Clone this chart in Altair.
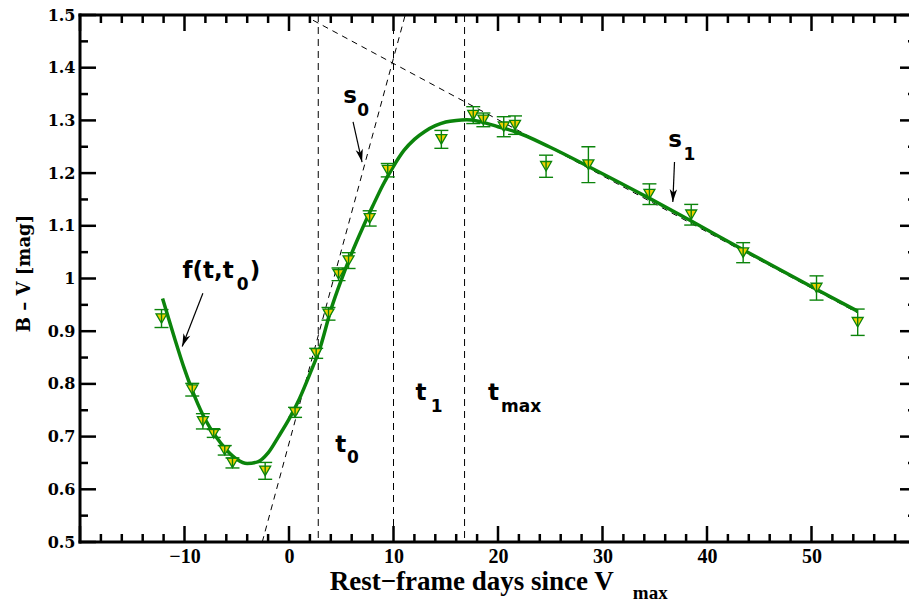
import math
import altair as alt
import pandas as pd

# B-V colour measurements: rest-frame days since V maximum, colour, 1-sigma error
days = [-12.2, -9.26, -8.24, -7.2, -6.15, -5.41, -2.28, 0.58, 2.6, 3.78, 4.74, 5.7, 7.72,
        9.45, 14.58, 17.63, 18.6, 20.55, 21.63, 24.6, 28.65, 34.49, 38.49, 43.46, 50.48, 54.42]
bv = [0.924, 0.789, 0.729, 0.706, 0.674, 0.650, 0.635, 0.746, 0.858, 0.933, 1.008, 1.034, 1.114,
      1.2055, 1.264, 1.310, 1.301, 1.288, 1.291, 1.213, 1.216, 1.160, 1.121, 1.049, 0.982, 0.917]
bv_err = [0.017, 0.012, 0.0145, 0.0075, 0.009, 0.0095, 0.016, 0.0095, 0.0095, 0.012, 0.012, 0.015,
          0.0145, 0.0127, 0.017, 0.016, 0.013, 0.019, 0.0175, 0.021, 0.034, 0.0196, 0.0196, 0.019,
          0.023, 0.025]

# fitted colour curve f(t, t0)
fit_days = [-12.1, -11.0, -10.0, -9.0, -8.0, -7.0, -6.0, -5.0, -4.0, -3.0, -2.0, -1.0, 0.0, 1.0,
            2.0, 3.0, 4.0, 5.0, 6.0, 7.0, 8.0, 9.0, 10.0, 11.0, 12.0, 13.0, 14.0, 15.0, 16.0, 17.0,
            18.0, 19.0, 20.0, 21.6, 25.0, 28.6, 34.5, 38.5, 43.5, 50.5, 54.4]
fit_bv = [0.962, 0.890, 0.828, 0.775, 0.732, 0.700, 0.675, 0.657, 0.649, 0.652, 0.669, 0.700,
          0.733, 0.772, 0.819, 0.870, 0.940, 0.997, 1.048, 1.094, 1.137, 1.178, 1.213, 1.243,
          1.264, 1.279, 1.290, 1.297, 1.300, 1.301, 1.299, 1.294, 1.288, 1.279, 1.249, 1.213,
          1.152, 1.109, 1.054, 0.979, 0.938]

# tangent lines s0 (rise) and s1 (late decline)
s0_days = [-2.56, 11.12]
s0_bv = [0.5, 1.5]
s1_days = [2.3, 54.4]
s1_bv = [1.49, 0.935]

# characteristic epochs t0, t1, tmax
epochs = [2.8, 10.0, 16.8]

# axis tick values
x_labels = [-10, 0, 10, 20, 30, 40, 50]
x_major = [-20, -10, 0, 10, 20, 30, 40, 50, 60]
x_minor = [v for v in range(-20, 61, 2) if v % 10]
y_major = [0.5, 0.6, 0.7, 0.8, 0.9, 1.0, 1.1, 1.2, 1.3, 1.4, 1.5]
y_minor = [0.55, 0.65, 0.75, 0.85, 0.95, 1.05, 1.15, 1.25, 1.35, 1.45]

# ---- layout ----
W, H = 829, 527
PX_DAY = 10.45
X0 = -20.0
XMAX = X0 + W / PX_DAY
RIGHT_FRAME = (60 - X0) * PX_DAY
PX_MAG = H / 1.0

GREEN = "#0b840b"
YELLOW = "#f2d000"

xs = alt.Scale(domain=[X0, XMAX], nice=False, zero=False)
ys = alt.Scale(domain=[0.5, 1.5], nice=False, zero=False)

# one shared axis definition per channel, used by every layer
AX_X = alt.Axis(values=x_labels, format="d", title=None, ticks=False, tickSize=0,
                domain=False, grid=False, labelFont="Liberation Serif",
                labelFontWeight="bold", labelFontSize=20, labelPadding=4,
                labelColor="black", labelOverlap=False, labelFlush=False)
AX_Y = alt.Axis(values=y_major, format=".1~f", title="B – V [mag]", ticks=False,
                tickSize=0, domain=False, grid=False, labelFont="DejaVu Serif",
                labelFontWeight="bold", labelFontSize=16, labelPadding=5,
                labelColor="black", labelOverlap=False, labelFlush=False,
                labelBaseline="middle",
                titleFont="DejaVu Serif", titleFontWeight="bold", titleFontSize=18,
                titleColor="black", titleAngle=270, titleX=-56, titleY=258,
                titleAlign="center", titleBaseline="middle")


def X(field="x"):
    return alt.X(f"{field}:Q", scale=xs, axis=AX_X, title=None)


def Y(field="y"):
    return alt.Y(f"{field}:Q", scale=ys, axis=AX_Y, title="B – V [mag]")


pts = pd.DataFrame({"x": days, "y": bv,
                    "lo": [v - e for v, e in zip(bv, bv_err)],
                    "hi": [v + e for v, e in zip(bv, bv_err)]})
fit = pd.DataFrame({"x": fit_days, "y": fit_bv})

layers = []

# dashed epoch lines
ep = pd.DataFrame({"x": epochs})
layers.append(alt.Chart(ep).mark_rule(color="black", strokeWidth=1, strokeDash=[7, 5]).encode(
    x=X(), y=alt.value(0), y2=alt.value(H)))

# dashed tangent lines
for dd, bb in ((s0_days, s0_bv), (s1_days, s1_bv)):
    layers.append(alt.Chart(pd.DataFrame({"x": dd, "y": bb})).mark_line(
        color="black", strokeWidth=1, strokeDash=[6, 5]).encode(x=X(), y=Y()))

# fitted curve
layers.append(alt.Chart(fit).mark_line(color=GREEN, strokeWidth=3.5, interpolate="monotone").encode(
    x=X(), y=Y(), order="x:Q"))

# data markers
layers.append(alt.Chart(pts).mark_point(shape="triangle-down", filled=True, size=120,
                                        fill=YELLOW, stroke=GREEN, strokeWidth=1.3,
                                        opacity=1).encode(x=X(), y=Y()))

# error bars with caps
layers.append(alt.Chart(pts).mark_rule(color=GREEN, strokeWidth=1.4).encode(
    x=X(), y=Y("lo"), y2="hi:Q"))
for f in ("lo", "hi"):
    layers.append(alt.Chart(pts).mark_tick(orient="horizontal", color=GREEN, size=14,
                                           thickness=1.4, opacity=1).encode(x=X(), y=Y(f)))

# annotation arrows: shaft start and tip
arr_x0 = [-8.24, 6.13, 36.89]
arr_y0 = [0.972, 1.297, 1.221]
arr_x1 = [-10.22, 6.99, 36.73]
arr_y1 = [0.871, 1.221, 1.145]
angles = []
for a, b, c, d in zip(arr_x0, arr_y0, arr_x1, arr_y1):
    dx = (c - a) * PX_DAY
    dy = -(d - b) * PX_MAG
    angles.append(math.degrees(math.atan2(dx, -dy)) % 360)
arr = pd.DataFrame({"x": arr_x0, "y": arr_y0, "x2": arr_x1, "y2": arr_y1, "ang": angles})
layers.append(alt.Chart(arr).mark_rule(color="black", strokeWidth=1.2).encode(
    x=X(), y=Y(), x2="x2:Q", y2="y2:Q"))
head = "M0,0L0.6,2.1L0,1.55L-0.6,2.1Z"
layers.append(alt.Chart(arr).mark_point(shape=head, filled=True, color="black", size=150,
                                        opacity=1).encode(
    x=X("x2"), y=Y("y2"), angle=alt.Angle("ang:Q", scale=None)))


def label(txt, x, y, size, font="DejaVu Sans"):
    return alt.Chart(pd.DataFrame({"x": [x], "y": [y], "t": [txt]})).mark_text(
        align="left", baseline="alphabetic", font=font, fontWeight="bold", fontSize=size,
        color="black").encode(x=X(), y=Y(), text="t:N")


layers += [
    label("f(t,t", -10.19, 1.0007, 23), label("0", -5.0, 0.978, 17), label(")", -3.75, 1.0007, 23),
    label("s", 5.19, 1.3325, 23), label("0", 6.54, 1.308, 17),
    label("s", 36.3, 1.249, 23), label("1", 37.76, 1.224, 17),
    label("t", 4.42, 0.671, 23), label("0", 5.55, 0.650, 17),
    label("t", 12.1, 0.769, 23), label("1", 13.56, 0.746, 17),
    label("t", 19.04, 0.769, 23), label("max", 20.29, 0.746, 17),
    # x-axis title with subscript
    label("Rest−frame days since V", 3.9, 0.409, 27, font="Liberation Serif"),
    label("max", 32.9, 0.392, 19, font="Liberation Serif"),
]

# inward tick marks on all four sides
xt_major = pd.DataFrame({"x": x_major})
xt_minor = pd.DataFrame({"x": x_minor})
yt_major = pd.DataFrame({"y": y_major})
yt_minor = pd.DataFrame({"y": y_minor})
TK = dict(color="black", strokeWidth=2.5)
for df, ln in ((xt_major, 16), (xt_minor, 8)):
    layers.append(alt.Chart(df).mark_rule(**TK).encode(x=X(), y=alt.value(H), y2=alt.value(H - ln)))
    layers.append(alt.Chart(df).mark_rule(**TK).encode(x=X(), y=alt.value(0), y2=alt.value(ln)))
for df, ln in ((yt_major, 16), (yt_minor, 8)):
    layers.append(alt.Chart(df).mark_rule(**TK).encode(y=Y(), x=alt.value(0), x2=alt.value(ln)))
    layers.append(alt.Chart(df).mark_rule(**TK).encode(
        y=Y(), x=alt.value(RIGHT_FRAME - ln), x2=alt.value(RIGHT_FRAME)))

# frame (right side lies beyond the visible area)
FR = dict(color="black", strokeWidth=3)
frame = pd.DataFrame({"k": [0]})
layers.append(alt.Chart(frame).mark_rule(**FR).encode(x=alt.value(0), y=alt.value(-1.5), y2=alt.value(H + 1.5)))
layers.append(alt.Chart(frame).mark_rule(**FR).encode(x=alt.value(-1.5), x2=alt.value(RIGHT_FRAME), y=alt.value(0)))
layers.append(alt.Chart(frame).mark_rule(**FR).encode(x=alt.value(-1.5), x2=alt.value(RIGHT_FRAME), y=alt.value(H)))

chart = alt.layer(*layers).properties(
    width=W, height=H,
    padding={"left": 80, "top": 15, "right": 0, "bottom": 61},
    autosize=alt.AutoSizeParams(type="none"),
    background="white",
).configure_view(stroke=None)

chart.save("out.html", embed_options={"renderer": "svg", "actions": False})
